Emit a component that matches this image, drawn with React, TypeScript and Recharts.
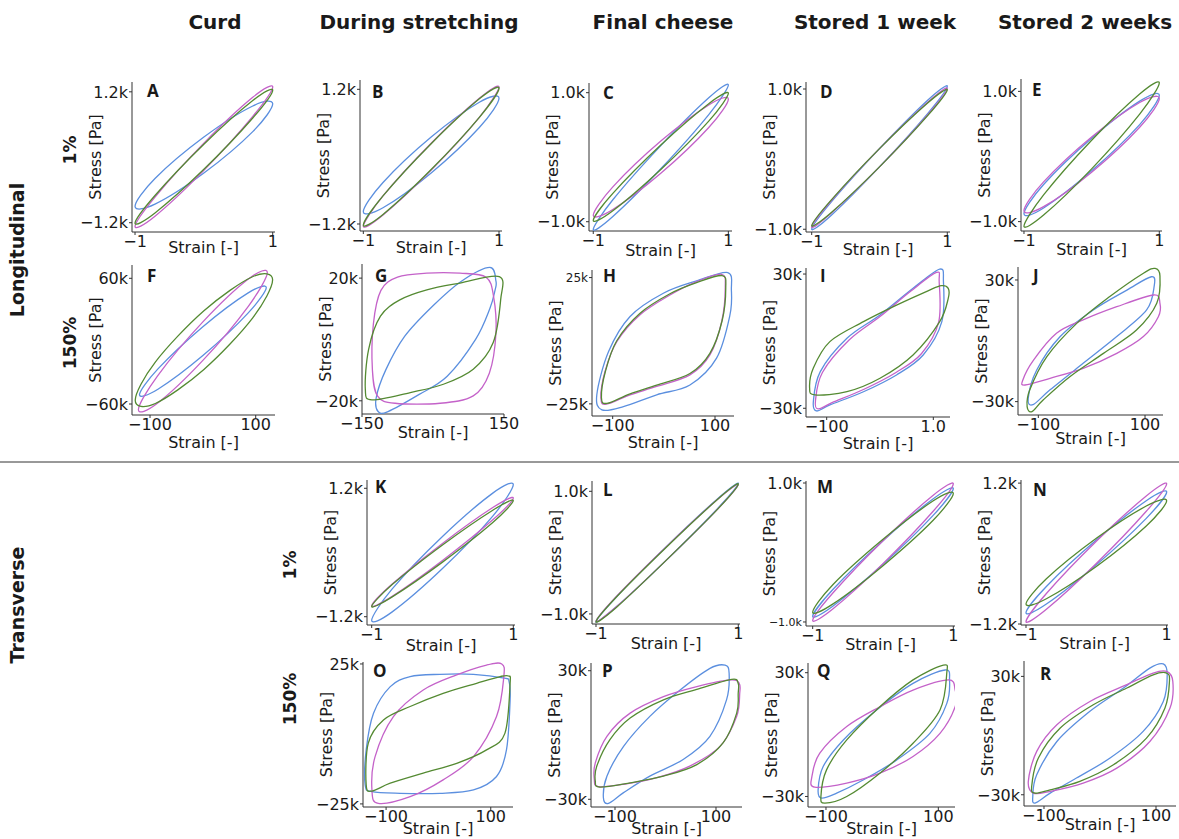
import React from 'react';
import { ScatterChart, Scatter, XAxis, YAxis } from 'recharts';

type Pt = [number, number];

const BLUE = '#5b8fdf';
const MAGENTA = '#c462c9';
const GREEN = '#548a32';
const INK = '#1a1a1a';
const FONT = '"DejaVu Sans", sans-serif';

// loop points: [strain, stress in k]
const A_blue: Pt[] = [[1, 0.98], [0.71, 0.94], [0, 0.37], [-0.71, -0.39], [-1, -0.9], [-0.71, -0.86], [0, -0.29], [0.71, 0.47]];
const A_magenta: Pt[] = [[1, 1.29], [0.71, 1.1], [0, 0.26], [-0.71, -0.73], [-1, -1.27], [-0.71, -1.08], [0, -0.24], [0.71, 0.75]];
const A_green: Pt[] = [[1, 1.23], [0.71, 1.04], [0, 0.24], [-0.71, -0.7], [-1, -1.21], [-0.71, -1.02], [0, -0.22], [0.71, 0.72]];

const B_blue: Pt[] = [[1, 1.04], [0.71, 0.97], [0, 0.35], [-0.71, -0.46], [-1, -0.98], [-0.71, -0.91], [0, -0.29], [0.71, 0.52]];
const B_magenta: Pt[] = [[1, 1.24], [0.71, 1.04], [0, 0.24], [-0.71, -0.7], [-1, -1.24], [-0.71, -1.04], [0, -0.24], [0.71, 0.7]];
const B_green: Pt[] = [[1, 1.22], [0.71, 1.03], [0, 0.23], [-0.71, -0.7], [-1, -1.22], [-0.71, -1.03], [0, -0.23], [0.71, 0.7]];

const C_blue: Pt[] = [[1, 1.12], [0.71, 0.92], [0, 0.18], [-0.71, -0.66], [-1, -1.12], [-0.71, -0.92], [0, -0.18], [0.71, 0.66]];
const C_magenta: Pt[] = [[1, 0.9], [0.71, 0.81], [0, 0.25], [-0.71, -0.46], [-1, -0.9], [-0.71, -0.81], [0, -0.25], [0.71, 0.46]];
const C_green: Pt[] = [[1, 0.99], [0.71, 0.83], [0, 0.19], [-0.71, -0.56], [-1, -0.98], [-0.71, -0.83], [0, -0.19], [0.71, 0.56]];

const D_blue: Pt[] = [[1, 1.04], [0.71, 0.84], [0, 0.15], [-0.71, -0.61], [-1, -1.0], [-0.71, -0.8], [0, -0.11], [0.71, 0.65]];
const D_magenta: Pt[] = [[1, 1.01], [0.71, 0.81], [0, 0.15], [-0.71, -0.59], [-1, -0.97], [-0.71, -0.77], [0, -0.11], [0.71, 0.63]];
const D_green: Pt[] = [[1, 0.99], [0.71, 0.8], [0, 0.15], [-0.71, -0.58], [-1, -0.95], [-0.71, -0.76], [0, -0.11], [0.71, 0.62]];

const E_blue: Pt[] = [[1, 0.94], [0.71, 0.85], [0, 0.28], [-0.71, -0.43], [-1, -0.88], [-0.71, -0.79], [0, -0.22], [0.71, 0.49]];
const E_magenta: Pt[] = [[1, 0.89], [0.71, 0.83], [0, 0.3], [-0.71, -0.39], [-1, -0.83], [-0.71, -0.77], [0, -0.24], [0.71, 0.45]];
const E_green: Pt[] = [[1, 1.13], [0.71, 0.96], [0, 0.25], [-0.71, -0.59], [-1, -1.07], [-0.71, -0.9], [0, -0.19], [0.71, 0.65]];

const F_blue: Pt[] = [[120, 51.2], [85, 45.9], [0, 13.8], [-85, -26.5], [-120, -51.2], [-85, -45.9], [0, -13.8], [85, 26.5]];
const F_magenta: Pt[] = [[122, 65.5], [86, 59.3], [0, 18.4], [-86, -33.3], [-122, -65.5], [-86, -59.3], [0, -18.4], [86, 33.3]];
const F_green: Pt[] = [[132, 58.5], [94, 61.5], [2, 29], [-90, -20], [-128, -56.5], [-90, -59.5], [2, -27], [94, 22]];

const G_blue: Pt[] = [[133, 19], [120, 23.5], [60, 19], [0, 11], [-60, 1], [-100, -10], [-120, -19], [-116, -23.5], [-95, -23.5], [-30, -18], [30, -12], [90, 0], [120, 10], [131, 16]];
const G_magenta: Pt[] = [[133, 2], [128, 14], [112, 20.3], [57, 21.6], [-13, 21.6], [-75, 20.3], [-110, 16], [-126, 5], [-128, -10], [-117, -18.5], [-80, -20.8], [15, -20.8], [85, -18.4], [119, -11]];
const G_green: Pt[] = [[143, 13], [140, 20.5], [57, 18.4], [-13, 16.2], [-69, 13], [-111, 7.6], [-136, -3.2], [-143, -16.2], [-129, -19.7], [-48, -17.3], [22, -14.6], [85, -9.7], [127, -1.1]];

const H_blue: Pt[] = [[132, 20], [125, 27], [64, 23.7], [-1, 18.8], [-66, 9.6], [-108, -4.3], [-131, -21.4], [-121, -27.4], [-79, -26.1], [-14, -21.4], [51, -17.5], [103, -6.9], [129, 10]];
const H_magenta: Pt[] = [[120, 21], [113, 26.3], [64, 23.4], [12, 18.1], [-47, 10.2], [-92, -0.4], [-115, -12.2], [-123, -22.8], [-112, -25.1], [-66, -21.4], [-14, -18.1], [51, -13.5], [90, -5.6], [113, 7.6]];
const H_green: Pt[] = [[121, 21], [114, 25.8], [64, 23], [12, 18.6], [-47, 10.8], [-92, 0], [-114, -12], [-122, -22.5], [-111, -24.8], [-66, -21], [-14, -17.6], [51, -13], [90, -5], [114, 8]];

const I_blue: Pt[] = [[119, 26.6], [112, 32.2], [62, 23.6], [0, 11.7], [-62, 1.3], [-112, -13.6], [-125, -27], [-119, -31.2], [-94, -28.5], [-31, -22.6], [31, -15.1], [81, -6.2], [116, 8.7]];
const I_magenta: Pt[] = [[111, 26.6], [106, 30.7], [58, 22.4], [0, 11], [-58, 0.5], [-108, -14], [-121, -26.5], [-116, -30.3], [-90, -27.5], [-30, -21.5], [30, -14], [78, -5.5], [110, 8.5]];
const I_green: Pt[] = [[128, 23.6], [115, 24.8], [90, 22.5], [31, 16.1], [-31, 8.7], [-94, -0.2], [-125, -12], [-132, -21], [-122, -24], [-62, -22.6], [0, -16.6], [62, -6.2], [112, 8.7], [128, 19.1]];

const J_blue: Pt[] = [[117, 26.7], [112, 31.6], [66, 25], [3, 15.2], [-59, 2.1], [-103, -14.4], [-119, -28.4], [-110, -31.5], [-78, -24.2], [-16, -11.1], [47, 2.1], [103, 15.2]];
const J_magenta: Pt[] = [[128, 18.5], [116, 22.6], [47, 16.8], [-16, 10.3], [-66, 3.7], [-109, -9.5], [-129, -19.3], [-125, -21.8], [-78, -18.5], [-16, -13.6], [47, -6.2], [97, 2.1], [125, 11.9]];
const J_green: Pt[] = [[128, 32], [119, 35.7], [97, 33.3], [34, 21.8], [-28, 8.6], [-84, -7.8], [-116, -24.2], [-121, -32.5], [-112, -34.9], [-91, -29.2], [-41, -17.7], [22, -6.2], [84, 5.3], [122, 18.5]];

const K_blue: Pt[] = [[1, 1.27], [0.71, 1.11], [0, 0.3], [-0.71, -0.68], [-1, -1.27], [-0.71, -1.11], [0, -0.3], [0.71, 0.68]];
const K_magenta: Pt[] = [[1, 1.02], [0.71, 0.84], [0, 0.17], [-0.71, -0.59], [-1, -1.0], [-0.71, -0.82], [0, -0.15], [0.71, 0.61]];
const K_green: Pt[] = [[1, 0.97], [0.71, 0.79], [0, 0.14], [-0.71, -0.6], [-1, -1.01], [-0.71, -0.83], [0, -0.18], [0.71, 0.56]];

const L_blue: Pt[] = [[1, 1.13], [0.71, 0.88], [0, 0.11], [-0.71, -0.72], [-1, -1.13], [-0.71, -0.88], [0, -0.11], [0.71, 0.72]];
const L_magenta: Pt[] = [[1, 1.11], [0.71, 0.87], [0, 0.11], [-0.71, -0.71], [-1, -1.12], [-0.71, -0.88], [0, -0.11], [0.71, 0.71]];
const L_green: Pt[] = [[1, 1.12], [0.71, 0.87], [0, 0.1], [-0.71, -0.72], [-1, -1.13], [-0.71, -0.89], [0, -0.11], [0.71, 0.71]];

const M_blue: Pt[] = [[1, 0.92], [0.71, 0.77], [0, 0.17], [-0.71, -0.53], [-1, -0.92], [-0.71, -0.77], [0, -0.17], [0.71, 0.53]];
const M_magenta: Pt[] = [[1, 0.99], [0.71, 0.82], [0, 0.17], [-0.71, -0.58], [-1, -0.98], [-0.71, -0.81], [0, -0.16], [0.71, 0.59]];
const M_green: Pt[] = [[1, 0.85], [0.71, 0.74], [0, 0.19], [-0.71, -0.46], [-1, -0.86], [-0.71, -0.74], [0, -0.19], [0.71, 0.46]];

const N_blue: Pt[] = [[1, 1.05], [0.71, 0.9], [0, 0.23], [-0.71, -0.56], [-1, -1.01], [-0.71, -0.86], [0, -0.19], [0.71, 0.6]];
const N_magenta: Pt[] = [[1, 1.19], [0.71, 0.98], [0, 0.21], [-0.71, -0.68], [-1, -1.16], [-0.71, -0.95], [0, -0.17], [0.71, 0.72]];
const N_green: Pt[] = [[1, 0.9], [0.71, 0.81], [0, 0.26], [-0.71, -0.43], [-1, -0.86], [-0.71, -0.77], [0, -0.22], [0.71, 0.47]];

const O_blue: Pt[] = [[135, 18.7], [126, 19.9], [67, 21.3], [3, 21.3], [-54, 20.5], [-92, 16.9], [-124, 7.4], [-138, -5.7], [-140, -18.2], [-127, -20.6], [-73, -21.2], [3, -21.2], [67, -20], [111, -15.2], [130, -5.7], [137, 12.1]];
const O_magenta: Pt[] = [[125, 20.5], [121, 25], [92, 24.6], [35, 21.1], [-29, 15.7], [-86, 6.2], [-121, -8.1], [-127, -20], [-115, -24.8], [-54, -22.4], [9, -16.4], [67, -8.1], [111, 6.2]];
const O_green: Pt[] = [[137, 18.1], [134, 20.7], [118, 20.5], [73, 18.1], [9, 14.5], [-54, 9.8], [-105, 5], [-134, -3.3], [-138, -18.2], [-127, -20.4], [-92, -17.6], [-29, -14], [35, -10.5], [92, -5.7], [127, 0.2]];

const P_blue: Pt[] = [[126, 28.8], [118, 32.6], [88, 31.1], [29, 21], [-31, 8.7], [-83, -5.3], [-116, -19.2], [-123, -29.2], [-113, -31.9], [-83, -26.9], [-31, -19.2], [35, -11.4], [88, -0.6], [121, 16.5]];
const P_magenta: Pt[] = [[146, 24.1], [128, 25.7], [62, 22.6], [-4, 17.9], [-70, 10.2], [-116, -0.6], [-139, -13], [-141, -20.7], [-133, -24.1], [-83, -23], [-17, -19.9], [48, -14.5], [108, -5.3], [141, 8.7], [147, 19.5]];
const P_green: Pt[] = [[144, 24.1], [131, 26], [62, 21.3], [-4, 16.4], [-70, 7.9], [-110, -2.2], [-136, -14.5], [-139, -21.5], [-130, -24.3], [-70, -22.3], [-4, -19.2], [62, -13.8], [114, -3.7], [141, 10.2], [144, 19.5]];

const Q_blue: Pt[] = [[120, 26.5], [112, 31.3], [55, 24.8], [-10, 11.9], [-69, -2.6], [-105, -15.5], [-114, -26.8], [-108, -30.8], [-81, -28.4], [-33, -21.9], [26, -12.3], [85, 0.6], [115, 15]];
const Q_magenta: Pt[] = [[130, 21.6], [118, 26.5], [55, 21.6], [-4, 13.5], [-63, 3.9], [-111, -9], [-125, -20.3], [-120, -25.5], [-63, -23.5], [-4, -18.7], [55, -10.6], [103, 0.6], [130, 13.5]];
const Q_green: Pt[] = [[115, 29.7], [109, 33.7], [55, 26.5], [-4, 13.5], [-63, -2.6], [-99, -17.1], [-109, -30], [-102, -33.2], [-63, -30], [-4, -18.7], [55, -4.2], [103, 11.9]];

const R_blue: Pt[] = [[120, 30.8], [113, 36.3], [89, 34.2], [42, 24.1], [-18, 12.3], [-77, -3], [-113, -19.9], [-120, -30.8], [-116, -34.2], [-89, -29.2], [-42, -21.5], [18, -11.4], [77, 2.1], [113, 17.3]];
const R_magenta: Pt[] = [[130, 27.5], [119, 32.5], [95, 31.7], [48, 25.8], [-18, 17.3], [-77, 5.5], [-113, -8], [-128, -23.2], [-119, -29.2], [-89, -28.3], [-30, -24.1], [30, -16.5], [89, -3], [125, 14]];
const R_green: Pt[] = [[124, 27.5], [119, 31.7], [95, 30.8], [48, 24.1], [-12, 15.6], [-71, 3.8], [-110, -11.4], [-122, -25.8], [-116, -29.2], [-89, -27.5], [-36, -23.2], [24, -14.8], [83, -1.3], [116, 14]];

// tick values and labels
const small1 = { xt: [-1, 1], xl: ['−1', '1'] };
const big100 = { xt: [-100, 100], xl: ['−100', '100'] };

type Panel = {
  id: string;
  box: [number, number, number, number]; // left, top, right, bottom of the plot area
  xd: [number, number];
  yd: [number, number];
  xt: number[];
  xl: string[];
  yt: number[];
  yl: string[];
  ySize?: number[];
  lab: number;
  let: [number, number];
  loops: Pt[][];
};

const panels: Panel[] = [
  { id: 'A', box: [132, 82, 275, 232], xd: [-1.044, 1.033], yd: [-1.37, 1.38], ...small1, yt: [-1.2, 1.2], yl: ['−1.2k', '1.2k'], lab: 21, let: [15, 15], loops: [A_blue, A_magenta, A_green] },
  { id: 'B', box: [360, 80, 502, 231], xd: [-1.049, 1.044], yd: [-1.325, 1.366], ...small1, yt: [-1.2, 1.2], yl: ['−1.2k', '1.2k'], lab: 22, let: [12, 18], loops: [B_blue, B_magenta, B_green] },
  { id: 'C', box: [589, 83, 732, 231], xd: [-1.063, 1.054], yd: [-1.144, 1.15], ...small1, yt: [-1, 1], yl: ['−1.0k', '1.0k'], lab: 25, let: [14, 16], loops: [C_blue, C_magenta, C_green] },
  { id: 'D', box: [806, 82, 950, 232], xd: [-1.084, 1.04], yd: [-1.039, 1.1], ...small1, yt: [-1, 1], yl: ['−1.0k', '1.0k'], lab: 23, let: [14, 16], loops: [D_blue, D_magenta, D_green] },
  { id: 'E', box: [1021, 79, 1162, 231], xd: [-1.044, 1.04], yd: [-1.144, 1.19], ...small1, yt: [-1, 1], yl: ['−1.0k', '1.0k'], lab: 24, let: [11, 17], loops: [E_blue, E_magenta, E_green] },
  { id: 'F', box: [132, 265, 275, 415], xd: [-134.1, 136.5], yd: [-70.5, 72.7], ...big100, yt: [-60, 60], yl: ['−60k', '60k'], lab: 33, let: [15, 17], loops: [F_blue, F_magenta, F_green] },
  { id: 'G', box: [362, 264, 504, 414], xd: [-150, 150], yd: [-24.3, 24.6], xt: [-150, 150], xl: ['−150', '150'], yt: [-20, 20], yl: ['−20k', '20k'], lab: 24, let: [13, 18], loops: [G_blue, G_magenta, G_green] },
  { id: 'H', box: [592, 270, 734, 416], xd: [-140.4, 137.1], yd: [-29.8, 28], ...big100, yt: [-25, 25], yl: ['−25k', '25k'], ySize: [16, 12], lab: 32, let: [11, 12], loops: [H_blue, H_magenta, H_green] },
  { id: 'I', box: [806, 268, 950, 417], xd: [-138.8, 131.3], yd: [-33.9, 32.7], xt: [-100, 100], xl: ['−100', '1.0'], yt: [-30, 30], yl: ['−30k', '30k'], lab: 32, let: [14, 14], loops: [I_blue, I_magenta, I_green] },
  { id: 'J', box: [1018, 267, 1163, 415], xd: [-138.1, 133.7], yd: [-36.6, 36.4], ...big100, yt: [-30, 30], yl: ['−30k', '30k'], lab: 29, let: [15, 15], loops: [J_blue, J_magenta, J_green] },
  { id: 'K', box: [367, 480, 515, 625], xd: [-1.066, 1.024], yd: [-1.355, 1.355], ...small1, yt: [-1.2, 1.2], yl: ['−1.2k', '1.2k'], lab: 26, let: [8, 13], loops: [K_blue, K_magenta, K_green] },
  { id: 'L', box: [592, 481, 740, 624], xd: [-1.056, 1.024], yd: [-1.164, 1.168], ...small1, yt: [-1, 1], yl: ['−1.0k', '1.0k'], lab: 25, let: [11, 15], loops: [L_blue, L_magenta, L_green] },
  { id: 'M', box: [806, 481, 955, 626], xd: [-1.095, 1.024], yd: [-1.058, 1.029], ...small1, yt: [-1, 1], yl: ['−1.0k', '1.0k'], ySize: [11, 16], lab: 24, let: [11, 12], loops: [M_blue, M_magenta, M_green] },
  { id: 'N', box: [1021, 480, 1168, 625], xd: [-1.071, 1.019], yd: [-1.217, 1.253], ...small1, yt: [-1.2, 1.2], yl: ['−1.2k', '1.2k'], lab: 24, let: [12, 16], loops: [N_blue, N_magenta, N_green] },
  { id: 'O', box: [363, 662, 513, 807], xd: [-144.1, 142.5], yd: [-26.1, 25.7], ...big100, yt: [-25, 25], yl: ['−25k', '25k'], lab: 27, let: [10, 15], loops: [O_blue, O_magenta, O_green] },
  { id: 'P', box: [591, 663, 742, 807], xd: [-147.5, 151.5], yd: [-33.6, 33.6], ...big100, yt: [-30, 30], yl: ['−30k', '30k'], lab: 27, let: [11, 14], loops: [P_blue, P_magenta, P_green] },
  { id: 'Q', box: [808, 663, 955, 807], xd: [-132, 129.7], yd: [-35.1, 34.7], ...big100, yt: [-30, 30], yl: ['−30k', '30k'], lab: 27, let: [9, 14], loops: [Q_blue, Q_magenta, Q_green] },
  { id: 'R', box: [1024, 661, 1176, 806], xd: [-135.7, 135.7], yd: [-35.7, 37.8], ...big100, yt: [-30, 30], yl: ['−30k', '30k'], lab: 24, let: [16, 19], loops: [R_blue, R_magenta, R_green] },
];

const loopColors = [BLUE, MAGENTA, GREEN];

const columnTitles = ['Curd', 'During stretching', 'Final cheese', 'Stored 1 week', 'Stored 2 weeks'];
const columnCenters = [215, 419, 663, 875, 1085];

// closed Catmull-Rom curve so each loop closes smoothly
function closedSpline(context: any) {
  let pts: number[][] = [];
  return {
    areaStart() {},
    areaEnd() {},
    lineStart() {
      pts = [];
    },
    point(x: number, y: number) {
      pts.push([+x, +y]);
    },
    lineEnd() {
      const n = pts.length;
      if (n < 3) return;
      context.moveTo(pts[0][0], pts[0][1]);
      for (let i = 0; i < n; i++) {
        const a = pts[(i + n - 1) % n];
        const b = pts[i];
        const c = pts[(i + 1) % n];
        const d = pts[(i + 2) % n];
        context.bezierCurveTo(
          b[0] + (c[0] - a[0]) / 6,
          b[1] + (c[1] - a[1]) / 6,
          c[0] - (d[0] - b[0]) / 6,
          c[1] - (d[1] - b[1]) / 6,
          c[0],
          c[1]
        );
      }
      context.closePath();
    },
  };
}

const YW = 60;
const MT = 12;
const MR = 22;
const MB = 6;

const LoopPanel = ({ p }: { p: Panel }) => {
  const [L, T, R, B] = p.box;
  const width = YW + (R - L) + MR;
  const height = MT + (B - T) + p.lab + MB;

  const xTick = (props: any) => {
    const i = p.xt.indexOf(props.payload.value);
    return (
      <text x={props.x} y={props.y} dy="0.71em" textAnchor="middle" fontSize={16} fill={INK} fontFamily={FONT}>
        {p.xl[i]}
      </text>
    );
  };
  const yTick = (props: any) => {
    const i = p.yt.indexOf(props.payload.value);
    const size = p.ySize ? p.ySize[i] : 16;
    return (
      <text x={props.x} y={props.y} dy="0.36em" textAnchor="end" fontSize={size} fill={INK} fontFamily={FONT}>
        {p.yl[i]}
      </text>
    );
  };

  return (
    <div style={{ position: 'absolute', left: L - YW, top: T - MT }}>
      <ScatterChart width={width} height={height} margin={{ top: MT, right: MR, bottom: MB, left: 0 }}>
        <XAxis
          type="number"
          dataKey="x"
          domain={p.xd}
          ticks={p.xt}
          interval={0}
          allowDataOverflow
          height={p.lab}
          tickSize={3}
          tickMargin={1}
          stroke="#333"
          tick={xTick}
          label={{ value: 'Strain [-]', position: 'insideBottom', offset: 0, style: { fontSize: 16, fill: INK, fontFamily: FONT } }}
        />
        <YAxis
          type="number"
          dataKey="y"
          domain={p.yd}
          ticks={p.yt}
          interval={0}
          allowDataOverflow
          width={YW}
          tickSize={3}
          tickMargin={1}
          stroke="#333"
          tick={yTick}
          label={{
            value: 'Stress [Pa]',
            angle: -90,
            position: 'insideLeft',
            offset: YW - 37,
            style: { fontSize: 16, fill: INK, fontFamily: FONT, textAnchor: 'middle' },
          }}
        />
        {p.loops.map((loop, k) => (
          <Scatter
            key={k}
            data={loop.map(([x, y]) => ({ x, y }))}
            line={{ stroke: loopColors[k], strokeWidth: 1.3 }}
            lineJointType={closedSpline as any}
            shape={() => <g />}
            isAnimationActive={false}
          />
        ))}
      </ScatterChart>
    </div>
  );
};

export default function App() {
  return (
    <div style={{ position: 'absolute', left: 0, top: 0, width: 1179, height: 839, background: '#fff', overflow: 'hidden' }}>
      {panels.map((p) => (
        <LoopPanel key={p.id} p={p} />
      ))}
      <svg width={1179} height={839} style={{ position: 'absolute', left: 0, top: 0, pointerEvents: 'none' }}>
        {columnTitles.map((t, i) => (
          <text key={t} x={columnCenters[i]} y={29} textAnchor="middle" fontSize={20} fontWeight="bold" fill={INK} fontFamily={FONT}>
            {t}
          </text>
        ))}
        <text transform="translate(24,250) rotate(-90)" textAnchor="middle" fontSize={19} fontWeight="bold" fill={INK} fontFamily={FONT}>
          Longitudinal
        </text>
        <text transform="translate(24,605) rotate(-90)" textAnchor="middle" fontSize={19} fontWeight="bold" fill={INK} fontFamily={FONT}>
          Transverse
        </text>
        <text transform="translate(76,150) rotate(-90)" textAnchor="middle" fontSize={17} fontWeight="bold" fill={INK} fontFamily={FONT}>
          1%
        </text>
        <text transform="translate(76,343) rotate(-90)" textAnchor="middle" fontSize={17} fontWeight="bold" fill={INK} fontFamily={FONT}>
          150%
        </text>
        <text transform="translate(296,565) rotate(-90)" textAnchor="middle" fontSize={17} fontWeight="bold" fill={INK} fontFamily={FONT}>
          1%
        </text>
        <text transform="translate(296,699) rotate(-90)" textAnchor="middle" fontSize={17} fontWeight="bold" fill={INK} fontFamily={FONT}>
          150%
        </text>
        <line x1={0} x2={1179} y1={462} y2={462} stroke="#333" strokeWidth={1} />
        {panels.map((p) => (
          <text key={p.id} x={p.box[0] + p.let[0]} y={p.box[1] + p.let[1]} fontSize={17} fontWeight="bold" fill={INK} fontFamily='"Open Sans", sans-serif'>
            {p.id}
          </text>
        ))}
      </svg>
    </div>
  );
}
